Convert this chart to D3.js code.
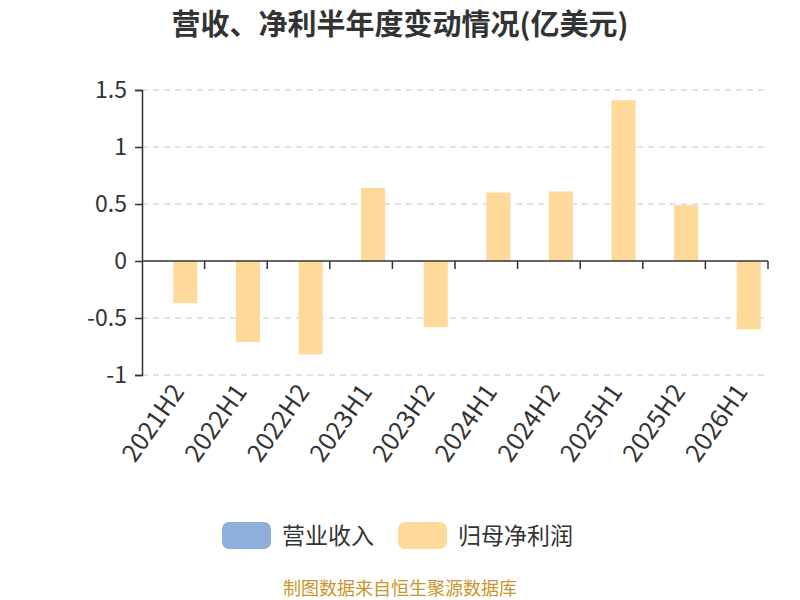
<!DOCTYPE html>
<html>
<head>
<meta charset="utf-8">
<script src="https://cdn.jsdelivr.net/npm/d3@7"></script>
<style>
  body { margin: 0; background: #fff; }
  text { font-family: "Noto Sans CJK SC", "Noto Sans", sans-serif; }
</style>
</head>
<body>
<div id="chart"></div>
<script>
// chart data
var periods = ["2021H2", "2022H1", "2022H2", "2023H1", "2023H2", "2024H1", "2024H2", "2025H1", "2025H2", "2026H1"];
var revenue = [null, null, null, null, null, null, null, null, null, null];
var netProfit = [-0.37, -0.71, -0.82, 0.64, -0.58, 0.60, 0.61, 1.41, 0.49, -0.60];
var yTicks = [-1, -0.5, 0, 0.5, 1, 1.5];
var seriesNames = ["营业收入", "归母净利润"];
var seriesColors = ["#8eaedb", "#ffd99a"];

// dimensions
var width = 800, height = 600;
var margin = {top: 90, left: 142, right: 32};
var plotW = width - margin.left - margin.right;

var svg = d3.select("#chart")
  .append("svg")
  .attr("width", width)
  .attr("height", height);

// title
svg.append("text")
  .attr("x", 400).attr("y", 35)
  .attr("text-anchor", "middle")
  .attr("font-size", "29px")
  .attr("font-weight", "bold")
  .attr("fill", "#333")
  .text("营收、净利半年度变动情况(亿美元)");

var x = d3.scaleBand().domain(periods).range([0, plotW]).paddingInner(0.23).paddingOuter(0.115);
var xOuter = d3.scaleBand().domain(periods).range([0, plotW]);
var xSub = d3.scaleBand().domain([0, 1]).range([0, x.bandwidth()]);
var y = d3.scaleLinear().domain([-1, 1.5]).range([375, 90]);

var g = svg.append("g").attr("transform", `translate(${margin.left}, 0)`);

// grid lines
g.selectAll(".grid")
  .data(yTicks.filter(function(d) { return d != 0; }))
  .enter().append("line")
  .attr("x1", 0).attr("x2", plotW)
  .attr("y1", function(d) { return y(d); })
  .attr("y2", function(d) { return y(d); })
  .attr("stroke", "#c8c8c8")
  .attr("stroke-width", 1.2)
  .attr("stroke-dasharray", "6,5");

// bars, one series per group
var series = [revenue, netProfit];
series.forEach(function(vals, si) {
  g.selectAll(".bar" + si)
    .data(vals.map(function(v, i) { return {p: periods[i], v: v}; }).filter(function(d) { return d.v != null; }))
    .enter().append("rect")
    .attr("x", function(d) { return x(d.p) + xSub(si); })
    .attr("width", xSub.bandwidth())
    .attr("y", function(d) { return y(Math.max(0, d.v)); })
    .attr("height", function(d) { return Math.abs(y(d.v) - y(0)); })
    .attr("fill", seriesColors[si]);
});

// y axis
var yAxis = g.append("g")
  .call(d3.axisLeft(y).tickValues(yTicks).tickSize(7).tickPadding(8)
    .tickFormat(function(d) { return d; }));
yAxis.select(".domain").attr("stroke", "#333").attr("stroke-width", 1.5);
yAxis.selectAll(".tick line").attr("stroke", "#333").attr("stroke-width", 1.5);
yAxis.selectAll("text").attr("font-size", "23px").attr("fill", "#333")
  .attr("font-family", "Noto Sans, sans-serif");

// x axis line at zero with boundary ticks
g.append("line")
  .attr("x1", 0).attr("x2", plotW)
  .attr("y1", y(0)).attr("y2", y(0))
  .attr("stroke", "#333").attr("stroke-width", 1.5);
g.selectAll(".xtick")
  .data(periods)
  .enter().append("line")
  .attr("x1", function(d) { return xOuter(d) + xOuter.bandwidth(); })
  .attr("x2", function(d) { return xOuter(d) + xOuter.bandwidth(); })
  .attr("y1", y(0)).attr("y2", y(0) + 8)
  .attr("stroke", "#333").attr("stroke-width", 1.5);

// x labels, rotated
g.selectAll(".xlabel")
  .data(periods)
  .enter().append("text")
  .attr("transform", function(d) {
    return `translate(${xOuter(d) + xOuter.bandwidth() / 2 + 12}, 392) rotate(-55)`;
  })
  .attr("text-anchor", "end")
  .attr("font-size", "25px")
  .attr("fill", "#333")
  .attr("font-family", "Noto Sans, sans-serif")
  .text(function(d) { return d; });

// legend
var legendPos = [222, 398];
seriesNames.forEach(function(name, i) {
  svg.append("rect")
    .attr("x", legendPos[i]).attr("y", 522)
    .attr("width", 49).attr("height", 27)
    .attr("rx", 7)
    .attr("fill", seriesColors[i]);
  svg.append("text")
    .attr("x", legendPos[i] + 60).attr("y", 544)
    .attr("font-size", "23px")
    .attr("fill", "#333")
    .text(name);
});

// source note
svg.append("text")
  .attr("x", 400).attr("y", 595)
  .attr("text-anchor", "middle")
  .attr("font-size", "18px")
  .attr("fill", "#c8962a")
  .text("制图数据来自恒生聚源数据库");
</script>
</body>
</html>
